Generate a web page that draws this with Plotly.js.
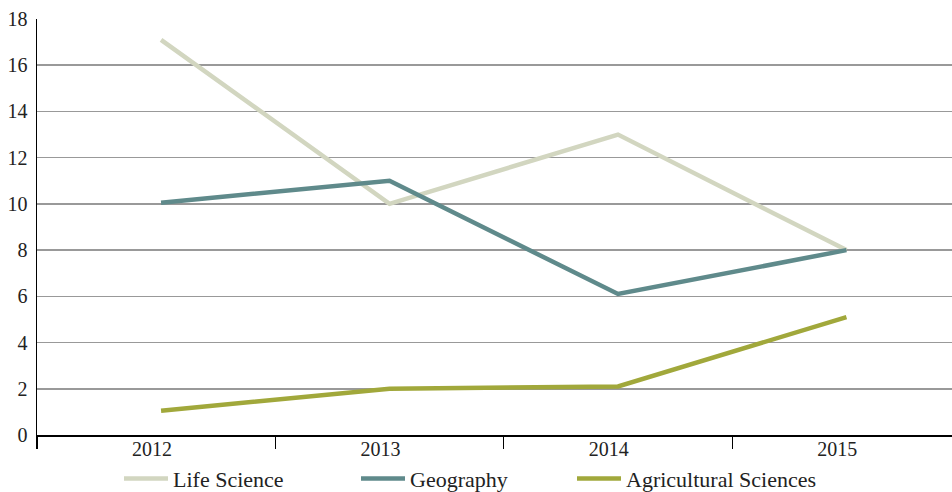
<!DOCTYPE html>
<html>
<head>
<meta charset="utf-8">
<script src="https://cdn.plot.ly/plotly-3.0.1.min.js"></script>
<style>html,body{margin:0;padding:0;background:#fff;}#chart{width:952px;height:492px;}</style>
</head>
<body>
<div id="chart"></div>
<script>
const years = ['2012', '2013', '2014', '2015'];
const lifeScience = [17.1, 10, 13, 8];
const geography = [10.05, 11, 6.1, 8];
const agricultural = [1.05, 2, 2.1, 5.1];
const yTicks = [0, 2, 4, 6, 8, 10, 12, 14, 16, 18];

const idx = years.map((_, i) => i);
const font = 'Liberation Serif, Times New Roman, serif';

const traces = [
  {x: idx, y: lifeScience, name: 'Life Science', mode: 'lines', legend: 'legend', line: {color: '#d2d6c0', width: 4.5}},
  {x: idx, y: geography, name: 'Geography', mode: 'lines', legend: 'legend2', line: {color: '#5f8a8b', width: 4.5}},
  {x: idx, y: agricultural, name: 'Agricultural Sciences', mode: 'lines', legend: 'legend3', line: {color: '#a1a83b', width: 4.5}},
  {x: idx, y: idx.map(() => null), xaxis: 'x2', showlegend: false, hoverinfo: 'skip', mode: 'lines'}
];

function leg(xpx) {
  return {orientation: 'h', xref: 'container', yref: 'container',
          x: xpx / 952, xanchor: 'left', y: 0.027, yanchor: 'middle',
          font: {family: font, size: 22, color: '#222'}, itemwidth: 44};
}

const left = -0.543;
const layout = {
  width: 952, height: 492,
  margin: {l: 37, r: 0, t: 19, b: 57},
  paper_bgcolor: '#fff', plot_bgcolor: '#fff',
  font: {family: font, size: 20, color: '#222'},
  showlegend: true,
  legend: leg(119),
  legend2: leg(356),
  legend3: leg(572),
  xaxis: {
    type: 'linear', range: [left, 3.462], showgrid: false, zeroline: false,
    showline: true, linecolor: '#000', linewidth: 1.5,
    tickmode: 'array', tickvals: [left, 0.5, 1.5, 2.5], ticktext: ['', '', '', ''],
    ticks: 'outside', ticklen: 12, tickwidth: 1.2, tickcolor: '#000'
  },
  xaxis2: {
    type: 'linear', range: [left, 3.462], overlaying: 'x', anchor: 'y', side: 'bottom',
    showgrid: false, zeroline: false, showline: false,
    tickmode: 'array', tickvals: idx.map(i => i - 0.04), ticktext: years, ticks: '',
    tickfont: {family: font, size: 20, color: '#222'}
  },
  yaxis: {
    range: [0, 18], tickmode: 'array', tickvals: yTicks,
    showgrid: true, gridcolor: '#999', gridwidth: 1.5,
    zeroline: false, showline: true, linecolor: '#000', linewidth: 1.5,
    ticks: '', ticklabelstandoff: 4,
    tickfont: {family: font, size: 20, color: '#222'}
  }
};

Plotly.newPlot('chart', traces, layout, {displayModeBar: false, staticPlot: true});
</script>
</body>
</html>
